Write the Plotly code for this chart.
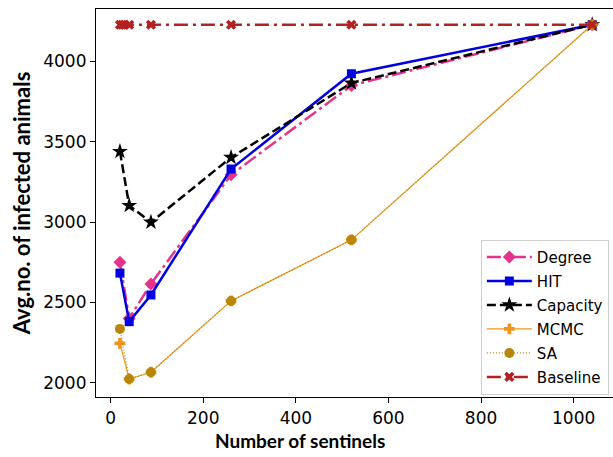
import plotly.graph_objects as go

x_sent = [20, 40, 87, 260, 520, 1040]
x_base = [20, 25, 30, 40, 87, 260, 520, 1040]

degree = [2750, 2400, 2615, 3294, 3850, 4228]
hit = [2682, 2380, 2546, 3330, 3923, 4228]
capacity = [3439, 3103, 2999, 3402, 3865, 4228]
mcmc = [2245, 2023, 2065, 2509, 2889, 4228]
sa = [2335, 2023, 2065, 2509, 2889, 4228]
baseline = [4228, 4228, 4228, 4228, 4228, 4228, 4228, 4228]

fig = go.Figure()

fig.add_trace(go.Scatter(x=x_sent, y=degree, name="Degree", mode="lines+markers", legendgroup="a",
    line=dict(color="#e5338c", width=2.5, dash="14px,4px,3px,4px"),
    marker=dict(symbol="diamond", size=10, color="#e5338c")))
fig.add_trace(go.Scatter(x=x_sent, y=hit, name="HIT", mode="lines+markers", legendgroup="b",
    line=dict(color="#0000e0", width=2.5),
    marker=dict(symbol="square", size=9, color="#0000e0")))
fig.add_trace(go.Scatter(x=x_sent, y=capacity, name="Capacity", mode="lines+markers", legendgroup="c",
    line=dict(color="black", width=2.5, dash="9px,4px"),
    marker=dict(symbol="star", size=12, color="black")))
fig.add_trace(go.Scatter(x=x_sent, y=mcmc, name="MCMC", mode="lines+markers", legendgroup="d",
    line=dict(color="#f0961e", width=1.2),
    marker=dict(symbol="cross", size=9, color="#f0961e")))
fig.add_trace(go.Scatter(x=x_sent, y=sa, name="SA", mode="lines+markers", legendgroup="e",
    line=dict(color="#b8860b", width=1.2, dash="1px,2px"),
    marker=dict(symbol="circle", size=10, color="#b8860b")))
fig.add_trace(go.Scatter(x=x_base, y=baseline, name="Baseline", mode="lines+markers", legendgroup="f",
    line=dict(color="#b22222", width=2.5, dash="14px,5px,3px,5px"),
    marker=dict(symbol="x", size=9, color="#b22222")))

fig.update_layout(
    width=613, height=457,
    margin=dict(l=96, r=0, t=9, b=60),
    paper_bgcolor="white", plot_bgcolor="white",
    font=dict(family="DejaVu Sans", color="black"),
    showlegend=True,
    legend=dict(x=0.992, y=0.006, xanchor="right", yanchor="bottom",
                bgcolor="rgba(255,255,255,0.8)", bordercolor="#d0d0d0", borderwidth=1,
                font=dict(size=15, family="DejaVu Sans"), tracegroupgap=1.5, itemwidth=45),
    annotations=[dict(text="<b>Number of sentinels</b>", xref="paper", yref="paper",
                      x=0.395, y=-0.111, xanchor="center", yanchor="middle", showarrow=False,
                      font=dict(size=19, family="Lato", color="black"))],
)
fig.update_xaxes(range=[-31.7, 1085], tickvals=[0, 200, 400, 600, 800, 1000],
    showgrid=False, zeroline=False, showline=True, linecolor="black", linewidth=1.2,
    mirror=True, ticks="outside", ticklen=5, tickcolor="black",
    tickfont=dict(size=17, family="DejaVu Sans"))
fig.update_yaxes(range=[1911, 4326], tickvals=[2000, 2500, 3000, 3500, 4000],
    showgrid=False, zeroline=False, showline=True, linecolor="black", linewidth=1.2,
    mirror=False, ticks="outside", ticklen=5, tickcolor="black",
    tickfont=dict(size=17, family="DejaVu Sans"),
    title=dict(text="<b>Avg.no. of infected animals</b>", font=dict(size=22, family="Lato"), standoff=6))

fig.write_html("out.html")
